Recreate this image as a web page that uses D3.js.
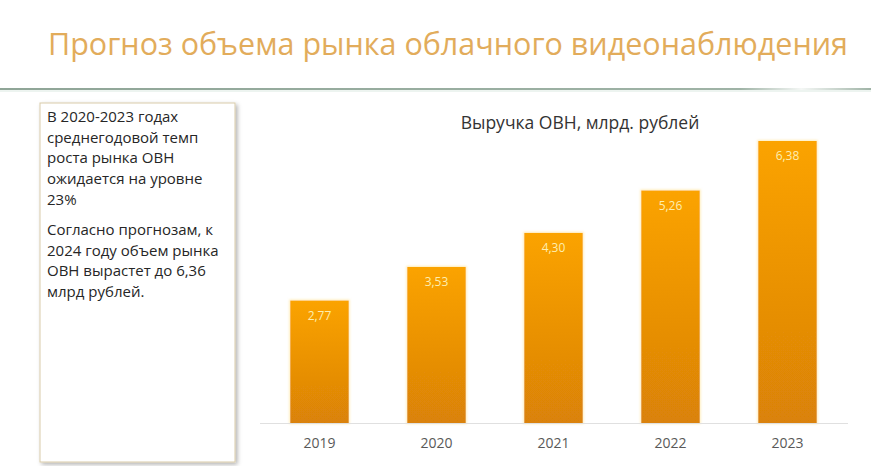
<!DOCTYPE html>
<html>
<head>
<meta charset="utf-8">
<script src="https://cdn.jsdelivr.net/npm/d3@7"></script>
<style>
  body { margin: 0; background: #fff; }
  svg { display: block; font-family: "Open Sans", "Noto Sans", sans-serif; }
</style>
</head>
<body>
<svg id="chart" width="871" height="466"></svg>
<script>
// данные
const years = ["2019", "2020", "2021", "2022", "2023"];
const revenue = [2.77, 3.53, 4.30, 5.26, 6.38];
const revenueLabels = ["2,77", "3,53", "4,30", "5,26", "6,38"];
const noteLines1 = ["В 2020-2023 годах", "среднегодовой темп", "роста рынка ОВН", "ожидается на уровне", "23%"];
const noteLines2 = ["Согласно прогнозам, к", "2024 году объем рынка", "ОВН вырастет до 6,36", "млрд рублей."];

const svg = d3.select("#chart");
const defs = svg.append("defs");

// градиент линии под заголовком
let lineGrad = defs.append("linearGradient").attr("id", "sep").attr("x1", 0).attr("x2", 1);
lineGrad.append("stop").attr("offset", "0%").attr("stop-color", "#8fa597");
lineGrad.append("stop").attr("offset", "85%").attr("stop-color", "#9fb3a6");
lineGrad.append("stop").attr("offset", "92%").attr("stop-color", "#f4f7f5");
lineGrad.append("stop").attr("offset", "100%").attr("stop-color", "#9fb3a6");

// градиент столбцов
let barGrad = defs.append("linearGradient").attr("id", "bar").attr("x1", 0).attr("x2", 0).attr("y1", 0).attr("y2", 1);
barGrad.append("stop").attr("offset", "0%").attr("stop-color", "#fba304");
barGrad.append("stop").attr("offset", "100%").attr("stop-color", "#da8207");

// мягкое свечение вокруг столбцов
let glow = defs.append("filter").attr("id", "glow").attr("x", "-20%").attr("y", "-10%").attr("width", "140%").attr("height", "120%");
glow.append("feMorphology").attr("in", "SourceAlpha").attr("operator", "dilate").attr("radius", 1).attr("result", "d");
glow.append("feGaussianBlur").attr("in", "d").attr("stdDeviation", 1.2).attr("result", "b");
glow.append("feFlood").attr("flood-color", "#ffe08a").attr("flood-opacity", 0.6);
glow.append("feComposite").attr("in2", "b").attr("operator", "in").attr("result", "g");
let gm = glow.append("feMerge");
gm.append("feMergeNode").attr("in", "g");
gm.append("feMergeNode").attr("in", "SourceGraphic");

let shadow = defs.append("filter").attr("id", "shadow").attr("x", "-10%").attr("y", "-10%").attr("width", "130%").attr("height", "130%");
shadow.append("feDropShadow").attr("dx", 2).attr("dy", 2).attr("stdDeviation", 2).attr("flood-color", "#000").attr("flood-opacity", 0.3);

// заголовок
svg.append("text")
    .attr("x", 48)
    .attr("y", 55)
    .attr("font-size", 31)
    .attr("fill", "#e2ac5b")
    .attr("textLength", 800)
    .attr("lengthAdjust", "spacingAndGlyphs")
    .text("Прогноз объема рынка облачного видеонаблюдения");

svg.append("rect").attr("x", 0).attr("y", 88).attr("width", 871).attr("height", 2).attr("fill", "url(#sep)");
svg.append("rect").attr("x", 0).attr("y", 90).attr("width", 871).attr("height", 2).attr("fill", "#e6efe9").attr("opacity", 0.7);

// блок с текстом
svg.append("rect")
    .attr("x", 40).attr("y", 103).attr("width", 195).attr("height", 359)
    .attr("fill", "#fff")
    .attr("stroke", "#d9cba9")
    .attr("stroke-width", 1)
    .attr("filter", "url(#shadow)");

let note = svg.append("g").attr("font-size", 15).attr("fill", "#262626");
note.selectAll(".p1").data(noteLines1).join("text")
    .attr("x", 47).attr("y", (d, i) => 122 + i * 20.7).text(d => d);
note.selectAll(".p2").data(noteLines2).join("text")
    .attr("x", 47).attr("y", (d, i) => 235 + i * 20.7).text(d => d);

// диаграмма
const x = d3.scaleBand().domain(years).range([261, 846]).paddingInner(0.5).paddingOuter(0.25);
const y = d3.scaleLinear().domain([0, 7]).range([423, 113.6]);

svg.append("text")
    .attr("x", 580).attr("y", 129)
    .attr("text-anchor", "middle")
    .attr("font-size", 17.5)
    .attr("fill", "#333")
    .text("Выручка ОВН, млрд. рублей");

svg.append("g")
    .selectAll("rect")
    .data(revenue)
    .join("rect")
    .attr("x", (d, i) => x(years[i]))
    .attr("y", d => y(d))
    .attr("width", x.bandwidth())
    .attr("height", d => y(0) - y(d))
    .attr("fill", "url(#bar)")
    .attr("filter", "url(#glow)");

svg.append("g")
    .selectAll("text")
    .data(revenue)
    .join("text")
    .attr("x", (d, i) => x(years[i]) + x.bandwidth() / 2)
    .attr("y", d => y(d) + 19)
    .attr("text-anchor", "middle")
    .attr("font-size", 12)
    .attr("fill", "#fdeeb0")
    .text((d, i) => revenueLabels[i]);

const xAxis = svg.append("g")
    .attr("transform", "translate(0," + y(0) + ")")
    .call(d3.axisBottom(x).tickSize(0).tickPadding(15));
xAxis.select(".domain").attr("stroke", "#e0e0e0").attr("d", "M260,0.5H848");
xAxis.selectAll("text")
    .attr("font-size", 14)
    .attr("fill", "#595959")
    .attr("font-family", "Open Sans, Noto Sans, sans-serif");
</script>
</body>
</html>
